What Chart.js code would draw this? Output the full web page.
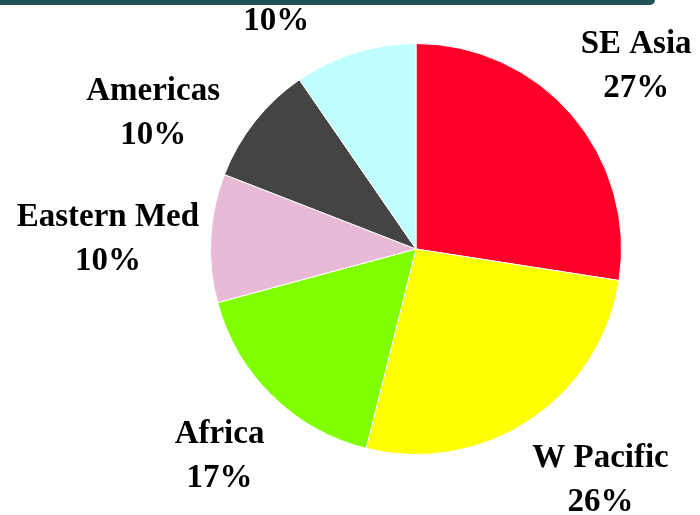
<!DOCTYPE html>
<html>
<head>
<meta charset="utf-8">
<script src="https://cdn.jsdelivr.net/npm/chart.js@4/dist/chart.umd.min.js"></script>
<style>
    body { margin: 0; background: #fff; }
    .wrap { position: relative; width: 700px; height: 515px; overflow: hidden; }
    .top-bar {
        position: absolute; left: 0; top: 0; width: 655px; height: 5px;
        background: #1e5257; border-bottom-right-radius: 8px; z-index: 2;
    }
    canvas { position: absolute; left: 0; top: 0; }
</style>
</head>
<body>
<div class="wrap">
    <div class="top-bar"></div>
    <canvas id="pieChart" width="700" height="515"></canvas>
</div>
<script>
// Share by region (%), clockwise from 12 o'clock
const regions = ['SE Asia', 'W Pacific', 'Africa', 'Eastern Med', 'Americas', 'Europe'];
const shares = [27.45, 26.45, 16.9, 10.1, 9.5, 9.6];
const sliceColors = ['#ff0029', '#ffff00', '#80ff00', '#e8bad6', '#444444', '#c0ffff'];

// label placement tweaks: [angle nudge in degrees, distance as fraction of radius]
const labelNudge = [[1, 1.39], [-5, 1.44], [-1, 1.39], [-1.3, 1.5], [-11, 1.44], [-12, 1.39]];

const pieLabels = {
    id: 'pieLabels',
    afterDatasetsDraw(chart) {
        const ctx = chart.ctx;
        const arcs = chart.getDatasetMeta(0).data;
        ctx.save();
        ctx.fillStyle = '#000';
        ctx.textAlign = 'center';
        ctx.textBaseline = 'middle';
        ctx.font = "bold 33px 'Liberation Serif'";
        arcs.forEach((arc, i) => {
            const p = arc.getProps(['x', 'y', 'startAngle', 'endAngle', 'outerRadius'], true);
            const mid = (p.startAngle + p.endAngle) / 2 + labelNudge[i][0] * Math.PI / 180;
            const d = p.outerRadius * labelNudge[i][1];
            const lx = p.x + Math.cos(mid) * d;
            const ly = p.y + Math.sin(mid) * d;
            ctx.fillText(regions[i], lx, ly - 22);
            ctx.fillText(Math.round(shares[i]) + '%', lx, ly + 22);
        });
        ctx.restore();
    }
};

new Chart(document.getElementById('pieChart'), {
    type: 'pie',
    data: {
        labels: regions,
        datasets: [{
            data: shares,
            backgroundColor: sliceColors,
            borderColor: '#ffffff',
            borderWidth: 1,
            hoverOffset: 0
        }]
    },
    options: {
        responsive: false,
        animation: false,
        layout: { padding: { top: 43, bottom: 60, left: 210, right: 78 } },
        plugins: {
            legend: { display: false },
            tooltip: { enabled: false }
        }
    },
    plugins: [pieLabels]
});
</script>
</body>
</html>
